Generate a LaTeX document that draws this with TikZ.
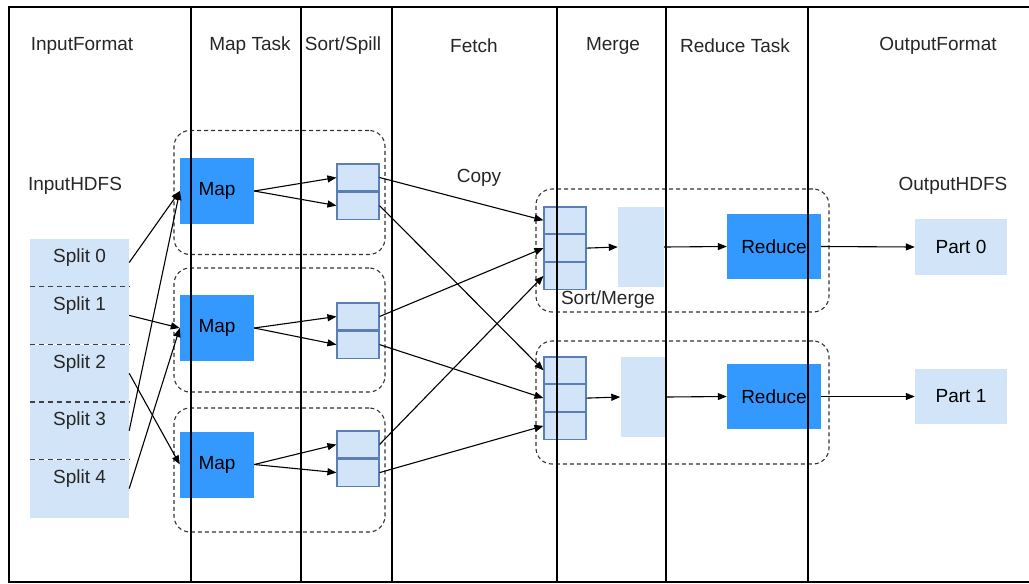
\documentclass[tikz,border=0pt]{standalone}
\usepackage{fontspec}
\setmainfont{Liberation Sans}
\usepackage{tikz}
\usetikzlibrary{positioning,arrows.meta}
\definecolor{MapBlue}{HTML}{3399FF}
\definecolor{PaleBlue}{HTML}{D2E5F8}
\definecolor{CellLine}{HTML}{5B7FB5}
\tikzset{
  lane/.style={line width=1.1pt},
  title/.style={text=black!85,inner sep=0pt},
  split/.style={fill=PaleBlue,minimum width=99pt,inner sep=0pt},
  sep/.style={draw=black!75,dash pattern=on 5pt off 4pt,line width=1.1pt},
  maptask/.style={fill=MapBlue,minimum width=74pt,minimum height=66pt,inner sep=0pt},
  cell/.style={draw=CellLine,fill=PaleBlue,line width=1.1pt,minimum width=42pt,inner sep=0pt},
  group/.style={draw=black!80,dash pattern=on 4pt off 3pt,rounded corners=16pt,line width=1.1pt,inner sep=0pt},
  soft/.style={fill=PaleBlue,inner sep=0pt},
  arr/.style={-{Triangle[length=9pt,width=7pt]},line width=1.1pt},
}
\begin{document}
\begin{tikzpicture}[x=1pt,y=-1pt,node distance=0pt,font=\fontsize{19}{23}\selectfont]
\useasboundingbox (0,0) rectangle (1029,584);
\node[group,minimum width=211pt,minimum height=124pt] (grp1) at (279.5,192.5) {};
\node[group,minimum width=211pt,minimum height=124pt] (grp2) at (279.5,330) {};
\node[group,minimum width=211pt,minimum height=124pt] (grp3) at (279.5,470) {};
\node[group,minimum width=293pt,minimum height=123pt] (grpR1) at (682.5,250.5) {};
\node[group,minimum width=293pt,minimum height=123pt] (grpR2) at (682.5,402.5) {};

\node[title] (hIn) at (82,46) {InputFormat};
\node[title] (hMap) at (250,46) {Map Task};
\node[title] (hSort) at (343,46) {Sort/Spill};
\node[title] (hFetch) at (474,46) {Fetch};
\node[title] (hMerge) at (613,46) {Merge};
\node[title] (hRed) at (735,46) {Reduce Task};
\node[title] (hOut) at (938,46) {OutputFormat};

\node[title] (inhdfs) at (75,186) {InputHDFS};
\node[split,minimum height=47pt,label={[title,anchor=center,yshift=-19pt]north:Split 0}] (split0) at (79.5,262.5) {};
\node[split,minimum height=58pt,below=of split0,label={[title,anchor=center,yshift=-19pt]north:Split 1}] (split1) {};
\node[split,minimum height=57pt,below=of split1,label={[title,anchor=center,yshift=-19pt]north:Split 2}] (split2) {};
\node[split,minimum height=57pt,below=of split2,label={[title,anchor=center,yshift=-19pt]north:Split 3}] (split3) {};
\node[split,minimum height=58pt,below=of split3,label={[title,anchor=center,yshift=-19pt]north:Split 4}] (split4) {};
\draw[sep] (split0.south west) -- (split0.south east);
\draw[sep] (split1.south west) -- (split1.south east);
\draw[sep] (split2.south west) -- (split2.south east);
\draw[sep] (split3.south west) -- (split3.south east);

\node[maptask] (map1) at (217,191) {Map};
\node[maptask] (map2) at (217,328) {Map};
\node[maptask] (map3) at (217,464.5) {Map};

\node[cell,minimum height=27pt] (sp1a) at (358,177.5) {};
\node[cell,minimum height=27pt,below=of sp1a] (sp1b) {};
\node[cell,minimum height=27pt] (sp2a) at (358,316.5) {};
\node[cell,minimum height=27pt,below=of sp2a] (sp2b) {};
\node[cell,minimum height=27pt] (sp3a) at (358,444.5) {};
\node[cell,minimum height=27pt,below=of sp3a] (sp3b) {};

\node[title] (copy) at (479,178) {Copy};
\node[cell,minimum height=26.7pt] (mg1a) at (565,220.3) {};
\node[cell,minimum height=26.7pt,below=of mg1a] (mg1b) {};
\node[cell,minimum height=26.7pt,below=of mg1b] (mg1c) {};
\node[cell,minimum height=26.7pt] (mg2a) at (565,370.3) {};
\node[cell,minimum height=26.7pt,below=of mg2a] (mg2b) {};
\node[cell,minimum height=26.7pt,below=of mg2b] (mg2c) {};
\node[title] (sortmerge) at (608,300) {Sort/Merge};

\node[soft,minimum width=46pt,minimum height=80pt] (srt1) at (641,247) {};
\node[soft,minimum width=46pt,minimum height=80pt] (srt2) at (643.5,397) {};
\node[maptask,minimum width=94pt,minimum height=65pt] (red1) at (774,246.5) {Reduce};
\node[maptask,minimum width=94pt,minimum height=65pt] (red2) at (774,396.5) {Reduce};

\node[title] (outhdfs) at (953,186) {OutputHDFS};
\node[soft,minimum width=92pt,minimum height=56pt] (part0) at (961,247) {Part 0};
\node[soft,minimum width=92pt,minimum height=55pt] (part1) at (961,396.5) {Part 1};

\draw[arr] (split0.east) -- (map1.west);
\draw[arr] (split3.east) -- (map1.west);
\draw[arr] (split1.east) -- (map2.west);
\draw[arr] (split4.east) -- (map2.west);
\draw[arr] (split2.east) -- (map3.west);

\draw[arr] (map1.east) -- (sp1a.west);
\draw[arr] (map1.east) -- (sp1b.west);
\draw[arr] (map2.east) -- (sp2a.west);
\draw[arr] (map2.east) -- (sp2b.west);
\draw[arr] (map3.east) -- (sp3a.west);
\draw[arr] (map3.east) -- (sp3b.west);

\draw[arr] (sp1a.east) -- (mg1a.west);
\draw[arr] (sp1b.east) -- (mg2a.west);
\draw[arr] (sp2a.east) -- (mg1b.west);
\draw[arr] (sp2b.east) -- (mg2b.west);
\draw[arr] (sp3a.east) -- (mg1c.west);
\draw[arr] (sp3b.east) -- (mg2c.west);

\draw[arr] (mg1b.east) -- (srt1.west);
\draw[arr] (mg2b.east) -- (srt2.west);
\draw[arr] (srt1.east) -- (red1.west);
\draw[arr] (srt2.east) -- (red2.west);
\draw[arr] (red1.east) -- (part0.west);
\draw[arr] (red2.east) -- (part1.west);

\draw[lane] (1029,7) -- (9,7) -- (9,582) -- (1029,582);
\draw[lane] (191,7) -- (191,582);
\draw[lane] (301,7) -- (301,582);
\draw[lane] (392,7) -- (392,582);
\draw[lane] (557,7) -- (557,582);
\draw[lane] (666,7) -- (666,582);
\draw[lane] (808,7) -- (808,582);
\end{tikzpicture}
\end{document}
